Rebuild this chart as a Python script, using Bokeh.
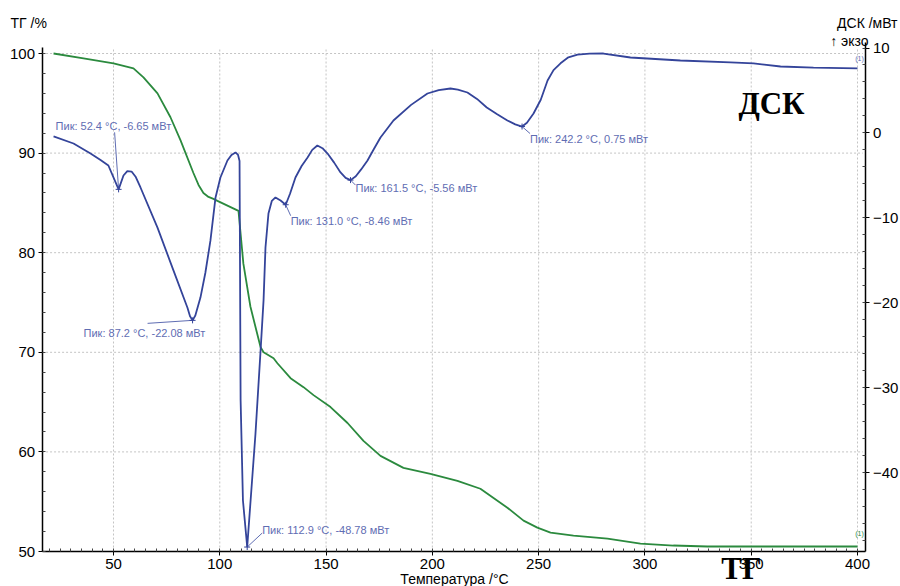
from bokeh.plotting import figure
from bokeh.models import Range1d, LinearAxis, FixedTicker, Label, ColumnDataSource
from bokeh.core.properties import value
from bokeh.embed import file_html
from bokeh.resources import INLINE

# ---------------- data ----------------
dsc_T = [21.8, 31.2, 39.2, 43.9, 47.6, 52.4, 54.7, 56.5, 58.5, 60.5, 62.7, 70.7, 78.2, 84.8,
         86.0, 87.2, 88.5, 90.9, 93.2, 95.6, 98.0, 100.3, 103.6, 105.5, 107.4, 108.6, 109.3,
         109.8, 110.9, 112.9, 116.8, 119.2, 120.6, 121.5, 122.9, 124.5, 126.2, 128.6, 131.0,
         133.0, 135.6, 138.5, 141.3, 143.5, 145.9, 148.3, 150.7, 153.8, 156.8, 159.2, 161.5,
         164.0, 166.5, 169.5, 172.5, 175.6, 181.7, 190.0, 197.7, 203.0, 208.5, 212.0, 216.5,
         221.0, 225.6, 230.5, 235.3, 239.0, 242.2, 244.5, 247.6, 251.0, 254.2, 257.0, 260.3,
         264.0, 268.3, 274.0, 280.5, 293.2, 316.7, 340.2, 351.1, 363.8, 379.3, 400.0]
dsc_mW = [-0.42, -1.25, -2.43, -3.2, -3.84, -6.65, -5.02, -4.5, -4.55, -5.2, -6.43, -11.15,
          -16.2, -20.6, -21.6, -22.08, -21.5, -19.4, -16.5, -12.7, -7.6, -5.25, -3.25, -2.6,
          -2.3, -2.6, -3.3, -31.5, -43.3, -48.78, -35.4, -25.6, -19.7, -13.5, -9.5, -8.0,
          -7.6, -7.97, -8.46, -7.2, -5.25, -3.9, -2.9, -2.0, -1.48, -1.8, -2.43, -3.5, -4.66,
          -5.3, -5.56, -5.1, -4.3, -3.25, -1.9, -0.54, 1.46, 3.3, 4.64, 5.05, 5.23, 5.1, 4.76,
          4.0, 2.99, 2.2, 1.46, 1.0, 0.75, 1.2, 2.29, 3.9, 6.17, 7.4, 8.2, 8.9, 9.23, 9.33,
          9.35, 8.88, 8.53, 8.3, 8.18, 7.82, 7.7, 7.59]

tg_T = [21.8, 35.9, 50.0, 59.4, 64.1, 70.7, 76.8, 81.5, 87.6, 90.0, 92.3, 94.7, 97.0, 98.9,
        108.8, 111.1, 114.4, 119.2, 120.6, 125.3, 127.1, 133.3, 139.4, 144.1, 152.1, 160.1,
        167.6, 175.6, 186.4, 199.1, 211.8, 222.6, 235.3, 242.9, 249.4, 255.6, 266.4, 282.4,
        297.9, 313.4, 329.4, 360.5, 400.0]
tg_pct = [100.0, 99.5, 99.0, 98.5, 97.6, 96.0, 93.6, 91.3, 88.0, 86.8, 86.0, 85.6, 85.4, 85.2,
          84.2, 78.9, 74.6, 70.5, 70.0, 69.4, 68.9, 67.4, 66.5, 65.7, 64.5, 62.9, 61.1, 59.6,
          58.4, 57.8, 57.1, 56.3, 54.4, 53.1, 52.4, 51.9, 51.6, 51.3, 50.8, 50.6, 50.5, 50.5,
          50.5]

peak_T = [52.4, 87.2, 112.9, 131.0, 161.5, 242.2]
peak_mW = [-6.65, -22.08, -48.78, -8.46, -5.56, 0.75]
peak_labels = ["Пик: 52.4 °C, -6.65 мВт", "Пик: 87.2 °C, -22.08 мВт",
               "Пик: 112.9 °C, -48.78 мВт", "Пик: 131.0 °C, -8.46 мВт",
               "Пик: 161.5 °C, -5.56 мВт", "Пик: 242.2 °C, 0.75 мВт"]

x_ticks = [50, 100, 150, 200, 250, 300, 350, 400]
tg_ticks = [50, 60, 70, 80, 90, 100]
dsc_ticks = [-40, -30, -20, -10, 0, 10]

# ---------------- layout (pixel <-> data) ----------------
W, H = 900, 586
X_PX0, X_SCALE = 6.71, 2.1257          # pixel x of T=0, pixels per °C
TG_PX100, TG_SCALE = 53.0, 9.96        # pixel y of TG=100, pixels per %
D_PX10, D_SCALE = 47.5, 8.49           # pixel y of DSC=10, pixels per mW

def Tx(px):
    return (px - X_PX0) / X_SCALE

def TGy(py):
    return 100 - (py - TG_PX100) / TG_SCALE

def Dy(py):
    return 10 - (py - D_PX10) / D_SCALE

T_LO, T_HI = 16.4, 404.0
TG_LO, TG_HI = 50.0, 100.6
D_LO, D_HI = -49.3, 10.65

BLUE = "#34449a"
GREEN = "#2b8a3e"
ANN = "#5f6db3"
FONT = "Liberation Sans"

p = figure(width=W, height=H, x_range=Range1d(Tx(0), Tx(W)), y_range=Range1d(TGy(H), TGy(0)),
           output_backend="svg", toolbar_location=None, title=None,
           x_axis_location=None, y_axis_location=None, min_border=0)
p.extra_y_ranges = {"dsc": Range1d(Dy(H), Dy(0))}
p.outline_line_color = None
p.background_fill_color = "white"
p.border_fill_color = "white"
p.grid.visible = False

xaxis = LinearAxis(fixed_location=TG_LO, bounds=(T_LO, T_HI),
                   ticker=FixedTicker(ticks=x_ticks, minor_ticks=list(range(20, 405, 5))))
laxis = LinearAxis(fixed_location=T_LO, bounds=(TG_LO, TG_HI),
                   ticker=FixedTicker(ticks=tg_ticks, minor_ticks=list(range(50, 101, 2))))
raxis = LinearAxis(fixed_location=T_HI, bounds=(D_LO, D_HI), y_range_name="dsc",
                   ticker=FixedTicker(ticks=dsc_ticks, minor_ticks=list(range(-48, 11, 2))))
p.add_layout(xaxis, "below")
p.add_layout(laxis, "left")
p.add_layout(raxis, "right")

for ax in [xaxis, laxis, raxis]:
    ax.axis_line_color = "black"
    ax.axis_line_width = 1.5
    ax.major_tick_line_color = "black"
    ax.major_tick_out = 4
    ax.major_tick_in = 2
    ax.minor_tick_line_color = "#444444"
    ax.minor_tick_in = 3
    ax.minor_tick_out = 0
    ax.major_label_text_font = FONT
    ax.major_label_text_font_size = "15px"
    ax.major_label_text_color = "black"
    ax.major_label_standoff = 3

# dotted grid inside the plot area
gx = list(x_ticks)
p.segment(x0=gx, y0=[TG_LO] * len(gx), x1=gx, y1=[TG_HI] * len(gx),
          line_color="#c4c4c4", line_dash="2 2", line_width=1)
gy = [v for v in tg_ticks if v > TG_LO]
p.segment(x0=[T_LO] * len(gy), y0=gy, x1=[T_HI - 1.5] * len(gy), y1=gy,
          line_color="#c4c4c4", line_dash="2 2", line_width=1)

# curves
p.line(tg_T, tg_pct, line_color=GREEN, line_width=1.8)
p.line(dsc_T, dsc_mW, line_color=BLUE, line_width=1.8, y_range_name="dsc")

# peak annotations (offsets in pixels from each peak: text dx, dy, leader dx, dy ; dy downward)
offs = [(-63, -63, -4, -57), (-109, 13, -45, 3), (15, -17, 15, -14),
        (5, 16, 5, 11), (5, 8, 5, 5), (8, 12, 8, 7)]
tx, ty, lx, ly = [], [], [], []
for T, D, (dx, dy, ldx, ldy) in zip(peak_T, peak_mW, offs):
    tx.append(T + dx / X_SCALE)
    ty.append(D - dy / D_SCALE)
    lx.append(T + ldx / X_SCALE)
    ly.append(D - ldy / D_SCALE)

p.segment(x0=peak_T, y0=peak_mW, x1=lx, y1=ly, line_color=ANN, line_width=1, y_range_name="dsc")
p.scatter(peak_T, peak_mW, marker="cross", size=6, line_color=BLUE, y_range_name="dsc")
src = ColumnDataSource(dict(x=tx, y=ty, t=peak_labels))
p.text(x="x", y="y", text="t", source=src, y_range_name="dsc", text_font=value(FONT),
       text_font_size="11px", text_color=ANN, text_align="left", text_baseline="middle")

# end markers
p.text(x=[Tx(859)], y=[Dy(58)], text=["(1)"], y_range_name="dsc", text_font=value(FONT),
       text_font_size="7px", text_color=ANN, text_align="center", text_baseline="middle")
p.text(x=[Tx(859)], y=[TGy(533)], text=["(1)"], text_font=value(FONT),
       text_font_size="7px", text_color=GREEN, text_align="center", text_baseline="middle")

# axis titles and labels
def add_label(px, py, text, align, size, font=FONT, style="normal", baseline="middle"):
    p.add_layout(Label(x=Tx(px), y=TGy(py), text=text, text_font=font, text_font_size=size,
                       text_font_style=style, text_color="black", text_align=align,
                       text_baseline=baseline))

add_label(10, 22, "ТГ /%", "left", "14px")
add_label(897, 22, "ДСК /мВт", "right", "14px")
add_label(868, 40, "↑ экзо", "right", "14px")
add_label(454, 578, "Температура /°C", "center", "14px")
add_label(771, 103, "ДСК", "center", "31px", font="Liberation Serif", style="bold")
add_label(741, 585, "ТГ", "center", "31px", font="Liberation Serif", style="bold",
          baseline="bottom")

open("out.html", "w").write(file_html(p, INLINE))
